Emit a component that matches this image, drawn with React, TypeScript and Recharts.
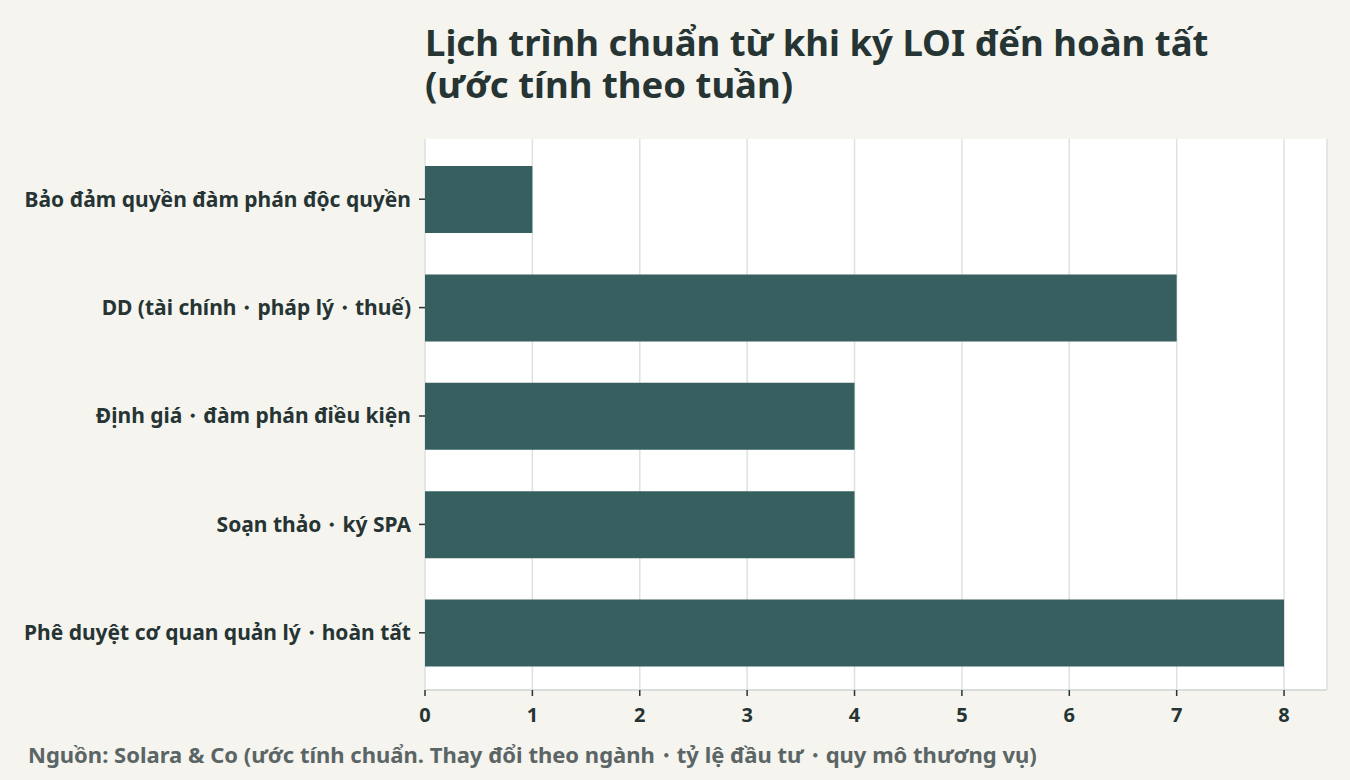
import { BarChart, Bar, XAxis, YAxis, CartesianGrid } from 'recharts';

const stages = [
  'Bảo đảm quyền đàm phán độc quyền',
  'DD (tài chính・pháp lý・thuế)',
  'Định giá・đàm phán điều kiện',
  'Soạn thảo・ký SPA',
  'Phê duyệt cơ quan quản lý・hoàn tất',
];
const weeks = [1, 7, 4, 4, 8];
const xTicks = [0, 1, 2, 3, 4, 5, 6, 7, 8];
const titleLines = ['Lịch trình chuẩn từ khi ký LOI đến hoàn tất', '(ước tính theo tuần)'];

const FONT = '"Noto Sans", sans-serif';
const INK = '#263434';

const data = stages.map((stage, i) => ({ stage, weeks: weeks[i] }));

export default function App() {
  return (
    <div
      style={{
        position: 'absolute',
        left: 0,
        top: 0,
        width: 1350,
        height: 780,
        background: '#f5f4ef',
        fontFamily: FONT,
        color: INK,
      }}
    >
      {titleLines.map((line, i) => (
        <div
          key={line}
          style={{
            position: 'absolute',
            left: 425,
            top: 22 + i * 42,
            height: 40,
            fontSize: 36.5,
            fontWeight: 700,
            lineHeight: '40px',
            whiteSpace: 'nowrap',
          }}
        >
          {line}
        </div>
      ))}
      <BarChart
        width={1350}
        height={780}
        data={data}
        layout="vertical"
        margin={{ top: 139, right: 23, bottom: 60, left: 0 }}
        barSize={67}
      >
        <CartesianGrid
          horizontal={false}
          fill="#ffffff"
          stroke="#dde2e1"
          strokeWidth={1.5}
        />
        <XAxis
          type="number"
          domain={[0, 8.4]}
          ticks={xTicks}
          height={30}
          stroke="#d9dedd"
          strokeWidth={2}
          tickLine={{ stroke: INK, strokeWidth: 1.5 }}
          tickSize={6}
          tickMargin={12}
          tick={{ fill: INK, fontSize: 20, fontWeight: 700, fontFamily: FONT }}
        />
        <YAxis
          type="category"
          dataKey="stage"
          width={425}
          axisLine={false}
          padding={{ top: 6, bottom: 3 }}
          tickLine={{ stroke: INK, strokeWidth: 1.5 }}
          tickSize={6}
          tickMargin={8}
          tick={{ fill: INK, fontSize: 21, fontWeight: 700, fontFamily: FONT }}
        />
        <Bar dataKey="weeks" fill="#385f5f" isAnimationActive={false} />
      </BarChart>
      <div
        style={{
          position: 'absolute',
          left: 28,
          top: 739,
          fontSize: 22,
          fontWeight: 700,
          color: '#5b6565',
          whiteSpace: 'nowrap',
        }}
      >
        Nguồn: Solara &amp; Co (ước tính chuẩn. Thay đổi theo ngành・tỷ lệ đầu tư・quy mô thương vụ)
      </div>
    </div>
  );
}
